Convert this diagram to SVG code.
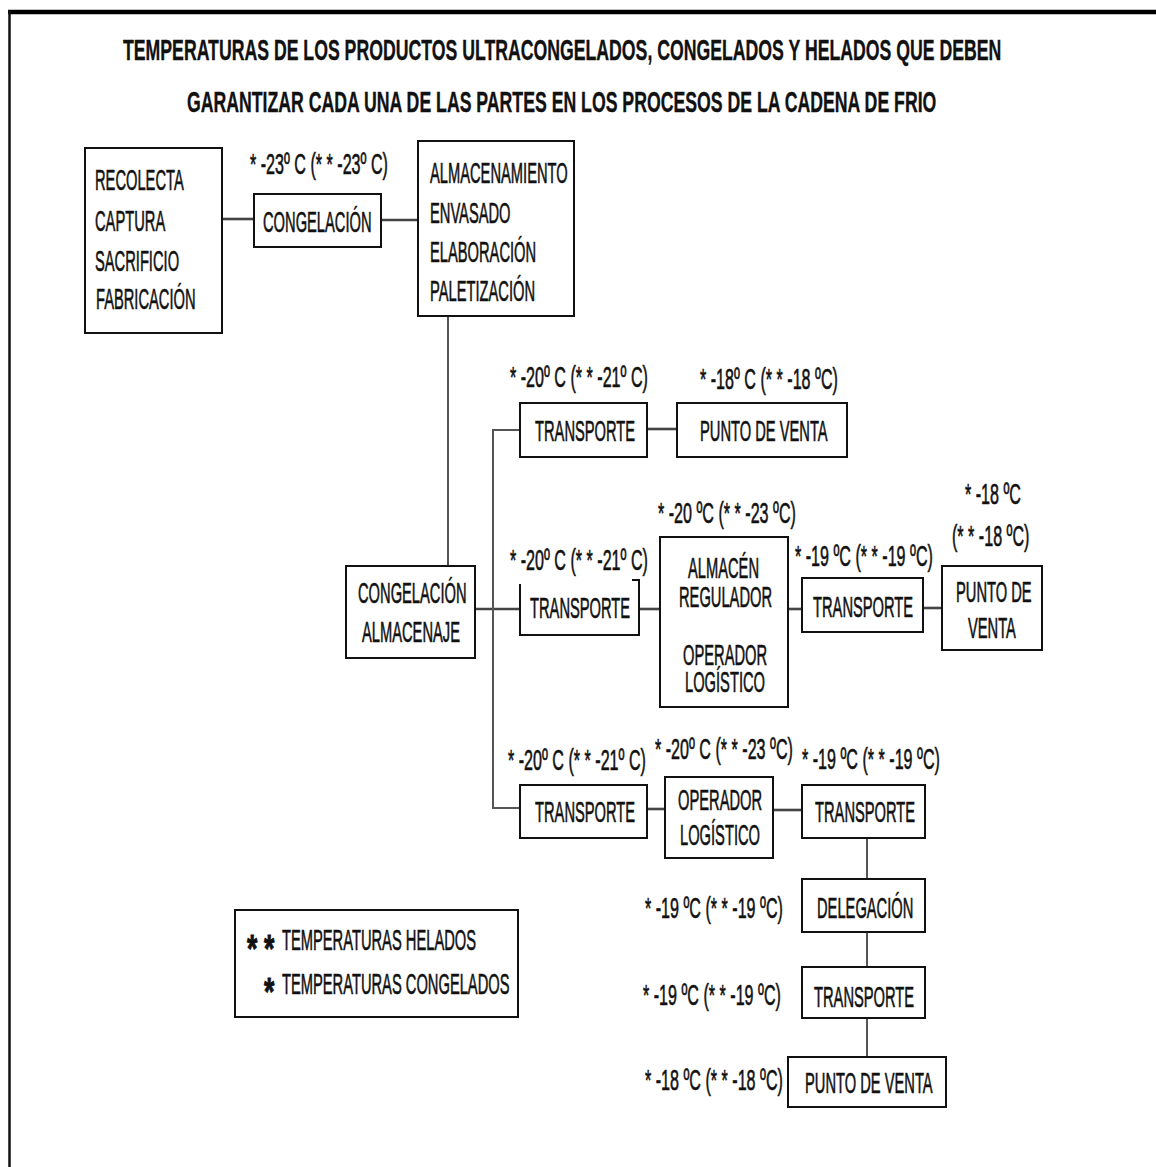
<svg xmlns="http://www.w3.org/2000/svg" width="1156" height="1167" viewBox="0 0 1156 1167">
<defs>
<style>
.b{fill:#fff;stroke:#111;stroke-width:2}
text{font-family:"Liberation Sans",Arial,sans-serif;font-size:30px;fill:#111;stroke:#111;stroke-width:0.5;vector-effect:non-scaling-stroke}
.h{font-weight:bold;stroke-width:0.3}
.st{font-size:38px;font-weight:bold;stroke-width:0.8}
.hl{stroke:#444;stroke-width:2.6;fill:none}
.vl{stroke:#555;stroke-width:2;fill:none}
</style>
</defs>
<rect x="0" y="0" width="1156" height="1167" fill="#fff"/>
<g id="frame">
<line x1="8" y1="12" x2="1156" y2="12" stroke="#000" stroke-width="4.5"/>
<line x1="9.5" y1="10" x2="9.5" y2="1167" stroke="#111" stroke-width="2.5"/>
</g>
<g id="title">
<text class="h" transform="translate(123,60) scale(0.5896,1)">TEMPERATURAS DE LOS PRODUCTOS ULTRACONGELADOS, CONGELADOS Y HELADOS QUE DEBEN</text>
<text class="h" transform="translate(187,112) scale(0.5896,1)">GARANTIZAR CADA UNA DE LAS PARTES EN LOS PROCESOS DE LA CADENA DE FRIO</text>
</g>
<g id="connectors">
<line class="hl" x1="222" y1="219" x2="254" y2="219"/>
<line class="hl" x1="381" y1="220" x2="418" y2="220"/>
<line class="vl" x1="448" y1="316" x2="448" y2="566"/>
<line class="hl" x1="475" y1="609" x2="520" y2="609"/>
<polyline class="vl" points="520,430 493,430 493,808 520,808"/>
<line class="hl" x1="647" y1="429" x2="677" y2="429"/>
<line class="hl" x1="639" y1="609" x2="660" y2="609"/>
<line class="hl" x1="788" y1="609" x2="802" y2="609"/>
<line class="hl" x1="923" y1="608" x2="942" y2="608"/>
<line class="hl" x1="647" y1="809" x2="665" y2="809"/>
<line class="hl" x1="773" y1="810" x2="802" y2="810"/>
<line class="vl" x1="867" y1="838" x2="867" y2="879"/>
<line class="vl" x1="867" y1="932" x2="867" y2="967"/>
<line class="vl" x1="867" y1="1018" x2="867" y2="1057"/>
</g>
<g id="n-recolecta">
<rect class="b" x="85" y="148" width="137" height="185"/>
<text transform="translate(95,190) scale(0.49,1)">RECOLECTA</text>
<text transform="translate(95,231) scale(0.49,1)">CAPTURA</text>
<text transform="translate(95,271) scale(0.49,1)">SACRIFICIO</text>
<text transform="translate(96,309) scale(0.49,1)">FABRICACIÓN</text>
</g>
<g id="n-congelacion">
<text transform="translate(250,174) scale(0.537,1)">* -23º C (* * -23º C)</text>
<rect class="b" x="254" y="194" width="127" height="53"/>
<text transform="translate(263,232) scale(0.49,1)">CONGELACIÓN</text>
</g>
<g id="n-almacenamiento">
<rect class="b" x="418" y="141" width="156" height="175"/>
<text transform="translate(430,183) scale(0.49,1)">ALMACENAMIENTO</text>
<text transform="translate(430,223) scale(0.49,1)">ENVASADO</text>
<text transform="translate(430,262) scale(0.49,1)">ELABORACIÓN</text>
<text transform="translate(430,301) scale(0.49,1)">PALETIZACIÓN</text>
</g>
<g id="n-congelacion-almacenaje">
<rect class="b" x="346" y="566" width="129" height="92"/>
<text transform="translate(358,603) scale(0.49,1)">CONGELACIÓN</text>
<text transform="translate(362,642) scale(0.49,1)">ALMACENAJE</text>
</g>
<g id="n-transporte-1">
<text transform="translate(510,387) scale(0.537,1)">* -20º C (* * -21º C)</text>
<rect class="b" x="520" y="403" width="127" height="54"/>
<text transform="translate(535,441) scale(0.49,1)">TRANSPORTE</text>
</g>
<g id="n-punto-venta-1">
<text transform="translate(700,389) scale(0.537,1)">* -18º C (* * -18 ºC)</text>
<rect class="b" x="677" y="403" width="170" height="54"/>
<text transform="translate(700,441) scale(0.49,1)">PUNTO DE VENTA</text>
</g>
<g id="n-transporte-2">
<text transform="translate(510,570) scale(0.537,1)">* -20º C (* * -21º C)</text>
<path class="b" d="M632 580 H639 V635 H520 V584" fill="none"/>
<text transform="translate(530,618) scale(0.49,1)">TRANSPORTE</text>
</g>
<g id="n-almacen-regulador">
<text transform="translate(658,523) scale(0.537,1)">* -20 ºC (* * -23 ºC)</text>
<rect class="b" x="660" y="537" width="128" height="170"/>
<text transform="translate(688,578) scale(0.49,1)">ALMACÉN</text>
<text transform="translate(679,607) scale(0.49,1)">REGULADOR</text>
<text transform="translate(683,665) scale(0.49,1)">OPERADOR</text>
<text transform="translate(685,692) scale(0.49,1)">LOGÍSTICO</text>
</g>
<g id="n-transporte-3">
<text transform="translate(795,566) scale(0.537,1)">* -19 ºC (* * -19 ºC)</text>
<rect class="b" x="802" y="578" width="121" height="54"/>
<text transform="translate(813,617) scale(0.49,1)">TRANSPORTE</text>
</g>
<g id="n-punto-venta-2">
<text transform="translate(965,504) scale(0.537,1)">* -18 ºC</text>
<text transform="translate(952,546) scale(0.537,1)">(* * -18 ºC)</text>
<rect class="b" x="942" y="566" width="100" height="84"/>
<text transform="translate(956,602) scale(0.49,1)">PUNTO DE</text>
<text transform="translate(968,638) scale(0.49,1)">VENTA</text>
</g>
<g id="n-transporte-4">
<text transform="translate(508,770) scale(0.537,1)">* -20º C (* * -21º C)</text>
<rect class="b" x="520" y="785" width="127" height="53"/>
<text transform="translate(535,822) scale(0.49,1)">TRANSPORTE</text>
</g>
<g id="n-operador-logistico">
<text transform="translate(655,759) scale(0.537,1)">* -20º C (* * -23 ºC)</text>
<rect class="b" x="665" y="777" width="108" height="81"/>
<text transform="translate(678,810) scale(0.49,1)">OPERADOR</text>
<text transform="translate(680,845) scale(0.49,1)">LOGÍSTICO</text>
</g>
<g id="n-transporte-5">
<text transform="translate(802,769) scale(0.537,1)">* -19 ºC (* * -19 ºC)</text>
<rect class="b" x="802" y="785" width="123" height="53"/>
<text transform="translate(815,822) scale(0.49,1)">TRANSPORTE</text>
</g>
<g id="n-delegacion">
<text transform="translate(645,918) scale(0.537,1)">* -19 ºC (* * -19 ºC)</text>
<rect class="b" x="802" y="879" width="123" height="53"/>
<text transform="translate(817,918) scale(0.49,1)">DELEGACIÓN</text>
</g>
<g id="n-transporte-6">
<text transform="translate(643,1005) scale(0.537,1)">* -19 ºC (* * -19 ºC)</text>
<rect class="b" x="802" y="967" width="123" height="51"/>
<text transform="translate(814,1007) scale(0.49,1)">TRANSPORTE</text>
</g>
<g id="n-punto-venta-3">
<text transform="translate(645,1090) scale(0.537,1)">* -18 ºC (* * -18 ºC)</text>
<rect class="b" x="788" y="1057" width="158" height="50"/>
<text transform="translate(805,1093) scale(0.49,1)">PUNTO DE VENTA</text>
</g>
<g id="legend">
<rect class="b" x="235" y="910" width="283" height="107"/>
<text class="st" transform="translate(247,962) scale(0.7,1)">*</text>
<text class="st" transform="translate(264,962) scale(0.7,1)">*</text>
<text transform="translate(282,950) scale(0.49,1)">TEMPERATURAS HELADOS</text>
<text class="st" transform="translate(264,1005) scale(0.7,1)">*</text>
<text transform="translate(282,994) scale(0.49,1)">TEMPERATURAS CONGELADOS</text>
</g>
</svg>
